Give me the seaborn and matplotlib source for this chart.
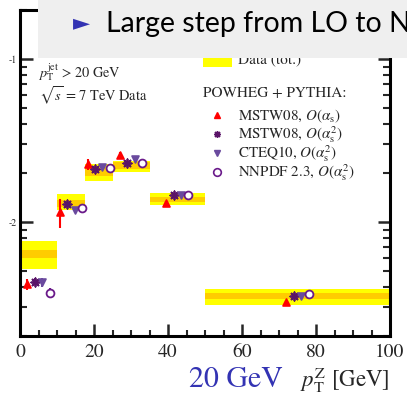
import numpy as np
import pandas as pd
import seaborn as sns
import matplotlib
matplotlib.use("Agg")
import matplotlib.pyplot as plt
from matplotlib.patches import Rectangle
from matplotlib.ticker import NullFormatter, LogLocator

# --- bins in Z transverse momentum [GeV]
bin_lo = [0, 10, 17.5, 25, 35, 50]
bin_hi = [10, 17.5, 25, 35, 50, 100]

# --- measured cross section with total (yellow) and statistical (orange) bands
data_val = [0.0064, 0.0130, 0.0205, 0.0222, 0.0138, 0.00352]
tot_lo = [0.00513, 0.01186, 0.01794, 0.02036, 0.01272, 0.00310]
tot_hi = [0.00766, 0.01486, 0.02272, 0.02380, 0.01502, 0.00388]
stat_lo = [0.00605, 0.01242, 0.01918, 0.02108, 0.01334, 0.00336]
stat_hi = [0.00674, 0.01366, 0.02187, 0.02336, 0.01432, 0.00369]

# --- POWHEG + PYTHIA predictions
mstw_as = [0.00415, 0.0115, 0.0226, 0.0258, 0.0130, 0.00322]
mstw_as_err = [0.0003, 0.0023, 0.0018, 0.0012, 0.0004, 0.00012]
mstw_as2 = [0.00431, 0.0129, 0.0211, 0.0231, 0.0147, 0.00352]
mstw_as2_err = [0.0002, 0.0004, 0.0005, 0.0005, 0.0003, 0.0001]
cteq = [0.00426, 0.0118, 0.0219, 0.0244, 0.0146, 0.00352]
cteq_err = [0.00025, 0.0005, 0.0004, 0.0005, 0.0003, 0.0001]
nnpdf = [0.00369, 0.0122, 0.0216, 0.0229, 0.0147, 0.00362]
nnpdf_err = [0.00025, 0.0003, 0.0003, 0.0003, 0.0002, 0.0001]

series_names = [r"MSTW08, $O(\alpha_\mathrm{s})$",
                r"MSTW08, $O(\alpha_\mathrm{s}^2)$",
                r"CTEQ10, $O(\alpha_\mathrm{s}^2)$",
                r"NNPDF 2.3, $O(\alpha_\mathrm{s}^2)$"]
x_offsets = [-3, -1, 1, 3]

sns.set_style("ticks")
plt.rcParams["font.family"] = ["STIXGeneral", "DejaVu Serif"]
plt.rcParams["mathtext.fontset"] = "stix"

W, H = 407, 397
fig = plt.figure(figsize=(W / 100, H / 100), dpi=100)
ax = fig.add_axes([20 / W, 1 - 336 / H, 370 / W, 326 / H])

centers = [(a + b) / 2 for a, b in zip(bin_lo, bin_hi)]

# data bands
for lo, hi, tl, th, sl, sh in zip(bin_lo, bin_hi, tot_lo, tot_hi, stat_lo, stat_hi):
    ax.add_patch(Rectangle((lo, tl), hi - lo, th - tl, color="#ffff00", lw=0, zorder=1))
    ax.add_patch(Rectangle((lo, sl), hi - lo, sh - sl, color="#ffcc00", lw=0, zorder=2))

styles = [
    dict(marker="^", color="#ff0000", s=24, fill=True),
    dict(marker=(8, 2, 0), color="#5a1468", s=36, fill=True),
    dict(marker="v", color="#6a4a9e", s=24, fill=True),
    dict(marker="o", color="#6a1a8a", s=32, fill=False),
]
values = [mstw_as, mstw_as2, cteq, nnpdf]
errors = [mstw_as_err, mstw_as2_err, cteq_err, nnpdf_err]

rows = []
for name, off, vals, errs in zip(series_names, x_offsets, values, errors):
    for c, v, e in zip(centers, vals, errs):
        rows.append(dict(series=name, x=c + off, y=v, err=e))
df = pd.DataFrame(rows)

for name, st in zip(series_names, styles):
    sub = df[df.series == name]
    ax.errorbar(sub.x, sub.y, yerr=sub.err, fmt="none", ecolor=st["color"],
                elinewidth=1.5, capsize=0, zorder=3)
    if st["fill"]:
        sns.scatterplot(data=sub, x="x", y="y", marker=st["marker"], s=st["s"],
                        color=st["color"], edgecolor=st["color"], linewidth=1.3,
                        ax=ax, zorder=4, legend=False)
    else:
        sns.scatterplot(data=sub, x="x", y="y", marker=st["marker"], s=st["s"],
                        facecolor="white", edgecolor=st["color"], linewidth=1.3,
                        ax=ax, zorder=4, legend=False)

ax.set_yscale("log")
ax.set_xlim(0, 100)
ax.set_ylim(0.002, 0.2)
ax.set_xlabel("")
ax.set_ylabel("")

for s in ax.spines.values():
    s.set_linewidth(2.2)
    s.set_color("black")

ax.set_xticks([0, 20, 40, 60, 80, 100])
ax.set_xticks(np.arange(0, 101, 5), minor=True)
ax.set_yticks([0.01, 0.1])
ax.set_yticklabels(["-2", "-1"])
ax.yaxis.set_minor_locator(LogLocator(base=10, subs=np.arange(2, 10)))
ax.yaxis.set_minor_formatter(NullFormatter())
ax.tick_params(axis="x", which="major", direction="in", length=9, width=1.8,
               labelsize=14, pad=6, top=False, bottom=True)
ax.tick_params(axis="x", which="minor", direction="in", length=4.5, width=1.5,
               top=False, bottom=True)
ax.tick_params(axis="y", which="major", direction="in", length=9, width=1.8,
               labelsize=7, pad=2, left=True, right=True)
ax.tick_params(axis="y", which="minor", direction="in", length=5, width=1.5,
               left=True, right=True)

def fx(px):
    return px / W

def fy(py):
    return 1 - py / H

# annotations
fig.text(fx(38), fy(77), r"$p_\mathrm{T}^\mathrm{jet}$ > 20 GeV", fontsize=10.3, va="baseline")
fig.text(fx(39), fy(101), r"$\sqrt{s}$ = 7 TeV Data", fontsize=10.4, va="baseline")

# legend
fig.patches.append(Rectangle((fx(203), fy(67)), 29 / W, 12 / H, transform=fig.transFigure,
                             color="#ffff00", lw=0, zorder=1))
fig.text(fx(238), fy(63.5), "Data (tot.)", fontsize=11, va="baseline", zorder=1)
fig.text(fx(203), fy(97), "POWHEG + PYTHIA:", fontsize=11, va="baseline")
leg_y = [115, 134, 153, 172]
for name, st, py in zip(series_names, styles, leg_y):
    if st["fill"]:
        fig.add_artist(plt.Line2D([fx(217)], [fy(py)], marker=st["marker"], color=st["color"],
                                  markersize=5, markeredgewidth=1.0, linestyle="none",
                                  transform=fig.transFigure))
    else:
        fig.add_artist(plt.Line2D([fx(217)], [fy(py)], marker=st["marker"], markerfacecolor="white",
                                  markeredgecolor=st["color"], markersize=5.5, markeredgewidth=1.2,
                                  linestyle="none", transform=fig.transFigure))
    fig.text(fx(238), fy(py + 5), name, fontsize=10.8, va="baseline")

# axis title and overlay text
fig.text(fx(390), fy(387), r"$p_\mathrm{T}^\mathrm{Z}$ [GeV]", fontsize=16.5, ha="right", va="baseline")
fig.text(fx(189), fy(387), "20 GeV", fontsize=21.5, color="#3333b3", va="baseline")

# slide header bar
fig.patches.append(Rectangle((fx(38), fy(58)), 1 - fx(38), 58 / H + 0.01, transform=fig.transFigure,
                             color="#efefef", lw=0, zorder=10))
fig.text(fx(73), fy(29.5), "\u25ba", fontsize=16, color="#3333b3", va="baseline",
         family=["DejaVu Sans"], zorder=11)
fig.text(fx(106), fy(32), "Large step from LO to N", fontsize=20.5, color="black",
         va="baseline", family=["Lato", "DejaVu Sans"], zorder=11)

fig.savefig("out.png", dpi=100)
